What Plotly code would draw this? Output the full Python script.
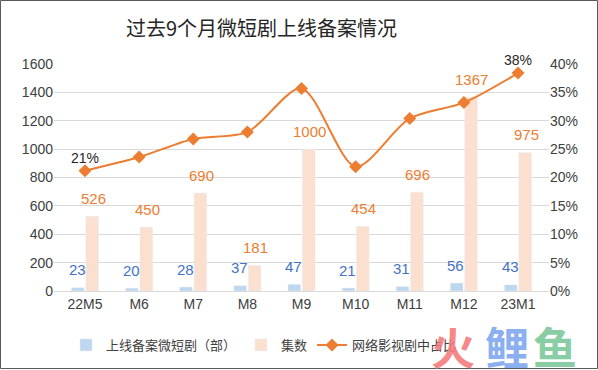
import plotly.graph_objects as go

categories = ["22M5", "M6", "M7", "M8", "M9", "M10", "M11", "M12", "23M1"]
dramas = [23, 20, 28, 37, 47, 21, 31, 56, 43]
episodes = [526, 450, 690, 181, 1000, 454, 696, 1367, 975]
share = [0.212, 0.236, 0.268, 0.280, 0.357, 0.219, 0.304, 0.332, 0.384]
share_labels = ["21%", "", "", "", "", "", "", "", "38%"]

FONT = "Liberation Sans, Noto Sans CJK SC, sans-serif"
CJK = "Noto Sans CJK SC, sans-serif"
BLUE = "#BDD7EE"
PEACH = "#FBE0CF"
ORANGE = "#ED7D31"
BLUE_TXT = "#4472C4"

W, H = 598, 370
L, R, T, B = 54, 49, 64, 79
PW, PH = W - L - R, H - T - B


def px(x):
    return (x - L) / PW


def py(y):
    return (H - B - y) / PH


fig = go.Figure()
fig.add_trace(go.Bar(x=categories, y=dramas, name="上线备案微短剧（部）",
                     marker_color=BLUE, yaxis="y"))
fig.add_trace(go.Bar(x=categories, y=episodes, name="集数",
                     marker_color=PEACH, yaxis="y"))
fig.add_trace(go.Scatter(x=categories, y=share, name="网络影视剧中占比",
                         mode="lines+markers", yaxis="y2",
                         line=dict(color=ORANGE, width=2, shape="spline", smoothing=0.8),
                         marker=dict(symbol="diamond", size=10, color=ORANGE)))

annotations = []
for c, v in zip(categories, dramas):
    annotations.append(dict(x=c, y=v, xref="x", yref="y", text=str(v), showarrow=False,
                            xshift=-8, yshift=18, font=dict(family=FONT, size=15, color=BLUE_TXT)))
for c, v in zip(categories, episodes):
    annotations.append(dict(x=c, y=v, xref="x", yref="y", text=str(v), showarrow=False,
                            xshift=8, yshift=18, font=dict(family=FONT, size=15, color=ORANGE)))
for c, v, t in zip(categories, share, share_labels):
    if t:
        annotations.append(dict(x=c, y=v, xref="x", yref="y2", text=t, showarrow=False,
                                yshift=13, font=dict(family=FONT, size=14, color="#262626")))

# title
annotations.append(dict(x=px(261), y=py(27), xref="paper", yref="paper", text="过去9个月微短剧上线备案情况",
                        showarrow=False, xanchor="center", yanchor="middle",
                        font=dict(family=CJK, size=20, color="#262626")))

# watermark
for ch, col, cx in [("火", "#F47C7C", 453), ("鲤", "#7FA7EE", 507), ("鱼", "#7DC89B", 555)]:
    annotations.append(dict(x=px(cx), y=py(346), xref="paper", yref="paper", text="<b>" + ch + "</b>",
                            showarrow=False, xanchor="center", yanchor="middle", opacity=0.9,
                            font=dict(family=CJK, size=44, color=col)))

fig.update_layout(
    width=W, height=H,
    margin=dict(l=L, r=R, t=T, b=B, autoexpand=False),
    paper_bgcolor="white", plot_bgcolor="white",
    barmode="group", bargap=0.47, bargroupgap=0.12,
    font=dict(family=FONT, size=14, color="#404040"),
    showlegend=True,
    legend=dict(orientation="h", x=px(66), xanchor="left", y=py(345), yanchor="middle",
                font=dict(family=CJK, size=13, color="#404040"), itemwidth=30,
                bgcolor="rgba(0,0,0,0)"),
    xaxis=dict(showgrid=False, ticks="", showline=True, linecolor="#D9D9D9",
               tickfont=dict(family=FONT, size=14, color="#404040")),
    yaxis=dict(range=[0, 1600], dtick=200, showgrid=True, gridcolor="#D9D9D9",
               zeroline=False, ticks="", tickfont=dict(family=FONT, size=14, color="#404040")),
    yaxis2=dict(range=[0, 0.4], dtick=0.05, tickformat=".0%", overlaying="y", side="right",
                showgrid=False, zeroline=False, ticks="",
                tickfont=dict(family=FONT, size=14, color="#404040")),
    annotations=annotations,
    shapes=[dict(type="rect", xref="paper", yref="paper",
                 x0=px(0.5), x1=px(597.5), y0=py(368.5), y1=py(0.5),
                 line=dict(color="#595959", width=1))],
)

fig.write_html("out.html", config={"displayModeBar": False},
               post_script="document.body.style.margin='0';document.body.style.overflow='hidden';")
